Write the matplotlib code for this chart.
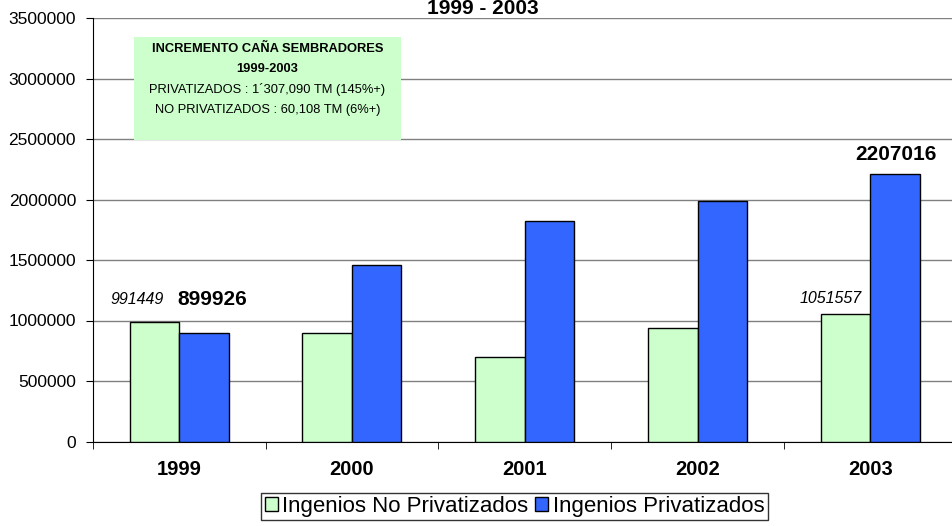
import numpy as np
import matplotlib.pyplot as plt
from matplotlib import font_manager
from matplotlib.patches import Rectangle
from matplotlib.ticker import StrMethodFormatter

anios = ['1999', '2000', '2001', '2002', '2003']
no_privatizados = [991449, 896000, 697000, 942000, 1051557]
privatizados = [899926, 1459000, 1820000, 1985000, 2207016]

caja_titulo = ['INCREMENTO CAÑA SEMBRADORES', '1999-2003']
caja_lineas = ['PRIVATIZADOS : 1´307,090 TM (145%+)',
               'NO PRIVATIZADOS : 60,108 TM (6%+)']

verde = '#CCFFCC'
azul = '#3366FF'

nombres = set(f.name for f in font_manager.fontManager.ttflist)
fuente = 'Liberation Sans'
angosta = 'Liberation Sans Narrow' if 'Liberation Sans Narrow' in nombres else None
plt.rcParams['font.family'] = [fuente, 'DejaVu Sans']

fig = plt.figure(figsize=(9.52, 5.26), dpi=100)
ax = fig.add_axes([92.7 / 952, 84.5 / 526, 864 / 952, 423.5 / 526])

x = np.arange(len(anios))
ancho = 0.286
ax.bar(x - ancho / 2, no_privatizados, ancho, color=verde, edgecolor='black',
       linewidth=1, label='Ingenios No Privatizados', zorder=3)
ax.bar(x + ancho / 2, privatizados, ancho, color=azul, edgecolor='black',
       linewidth=1, label='Ingenios Privatizados', zorder=3)

ax.set_xlim(-0.5, 4.5)
ax.set_ylim(0, 3500000)
ax.set_yticks(np.arange(0, 3500001, 500000))
ax.yaxis.set_major_formatter(StrMethodFormatter('{x:.0f}'))
ax.yaxis.grid(True, color='#808080', linewidth=1)
ax.set_axisbelow(True)
for s in ['top', 'right']:
    ax.spines[s].set_visible(False)
ax.spines['left'].set_color('black')
ax.spines['bottom'].set_color('black')

ax.set_xticks(x)
ax.set_xticklabels(anios, fontsize=14.5, fontweight='bold')
ax.set_xticks(np.arange(-0.5, 4.6, 1), minor=True)
ax.tick_params(axis='x', which='major', length=0, pad=13)
ax.tick_params(axis='x', which='minor', length=5, direction='out')
ax.tick_params(axis='y', length=5, direction='out', pad=7, labelsize=12.5)

# etiquetas de valores
ax.text(0 - 0.246, 1174000, str(no_privatizados[0]), ha='center', va='center',
        fontsize=11.5, style='italic')
ax.text(0 + 0.194, 1174000, str(privatizados[0]), ha='center', va='center',
        fontsize=15, fontweight='bold')
ax.text(4 - 0.23, 1185000, str(no_privatizados[4]), ha='center', va='center',
        fontsize=11.5, style='italic')
ax.text(4 + 0.146, 2372000, str(privatizados[4]), ha='center', va='center',
        fontsize=15, fontweight='bold')

# titulo cortado arriba
fig.text(483 / 952, 1 - 14 / 526, '1999 - 2003', ha='center', va='baseline',
         fontsize=15, fontweight='bold')

# caja verde
fig.patches.append(Rectangle((134 / 952, 1 - 140 / 526), 267 / 952, 103 / 526,
                             transform=fig.transFigure, facecolor=verde,
                             edgecolor='none', zorder=5))
if angosta:
    fam, tam = [angosta, fuente], 11
else:
    fam, tam = [fuente], 9.3
ys = [48.7, 69, 90, 110]
for i, t in enumerate(caja_titulo + caja_lineas):
    fig.text(267.5 / 952, 1 - ys[i] / 526, t, ha='center', va='center',
             fontsize=tam, family=fam,
             fontweight='bold' if i < 2 else 'normal', zorder=6)

leg = fig.legend(loc='upper center', bbox_to_anchor=(514.5 / 952, 1 - 492.7 / 526),
                 ncol=2, fontsize=16, frameon=True, fancybox=False,
                 handlelength=0.6, handleheight=0.6, handletextpad=0.2,
                 columnspacing=0.3, borderpad=0.15, borderaxespad=0)
leg.get_frame().set_edgecolor('black')
leg.get_frame().set_linewidth(1)

fig.savefig('out.png', dpi=100)
